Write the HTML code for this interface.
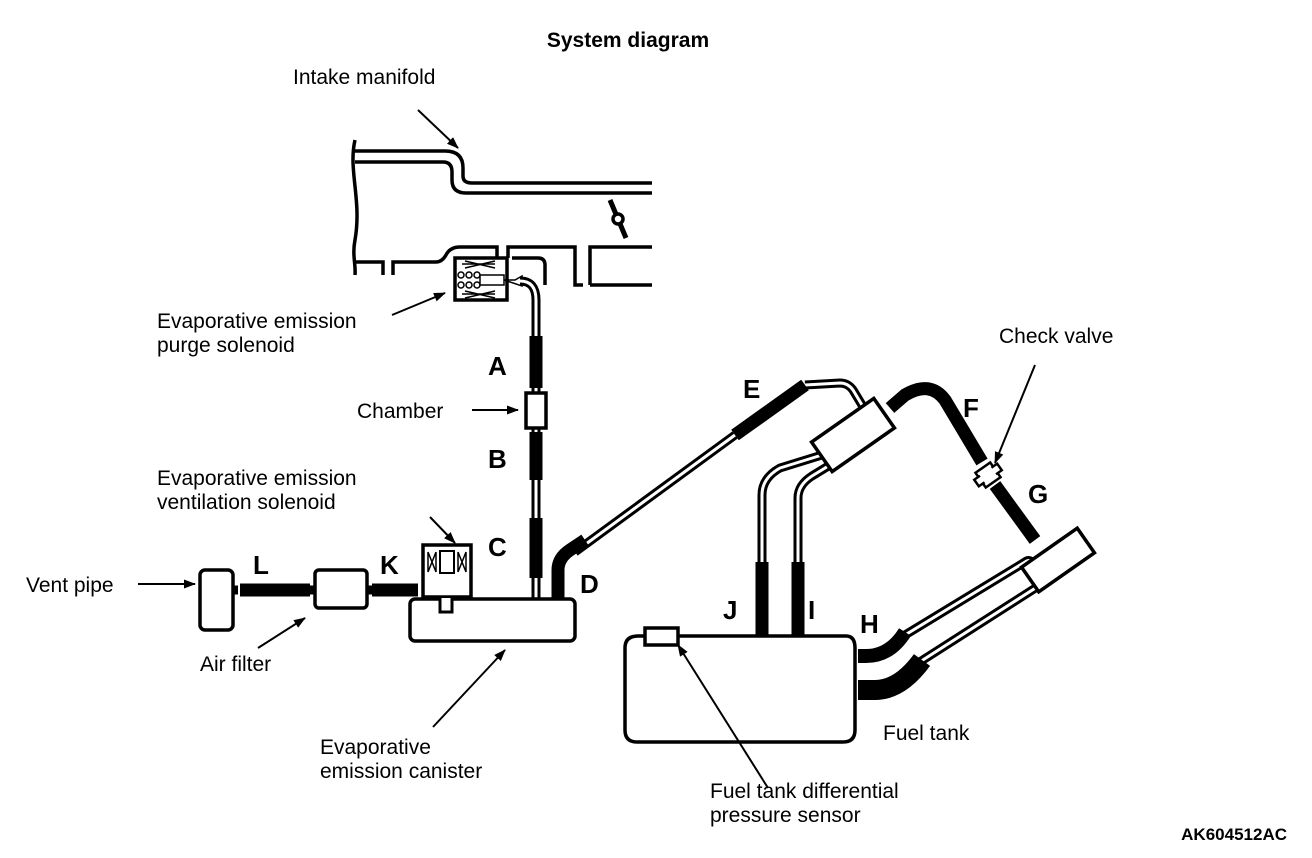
<!DOCTYPE html>
<html><head><meta charset="utf-8"><style>
html,body{margin:0;padding:0;background:#fff}
svg{display:block}
text{font-family:"Liberation Sans",Arial,sans-serif;font-size:21px;fill:#000}
.b{font-weight:bold;font-size:26px}
</style></head><body>
<svg width="1312" height="858" viewBox="0 0 1312 858" xmlns="http://www.w3.org/2000/svg">
<defs>
<marker id="ar" markerWidth="12" markerHeight="9" refX="11" refY="4.5" orient="auto" markerUnits="userSpaceOnUse" viewBox="0 0 12 9">
<path d="M0,0 L12,4.5 L0,9 z" fill="#000"/></marker>
</defs>
<g fill="none" stroke="#000" stroke-width="3.5">
<path d="M355,140 C348,170 362,200 355,240 C352,255 356,265 355,275"/>
<path d="M355,151 H445 Q463,151 463,168 V176 Q463,183 472,183 H652"/>
<path d="M355,162 H443 Q452,162 452,172 V180 Q452,193 466,193 H652"/>
<path d="M355,262 H383 V275"/>
<path d="M393,275 V262 H436 Q442,262 446,255 Q450,247 460,247 H497 V258"/>
<path d="M508,258 V247 H575 V285 H583"/>
<path d="M512,258 H538 Q545,258 545,265 V285"/>
<path d="M590,285 V247 H652"/>
<path d="M590,285 H652"/>
<path d="M610,200 L626,238" stroke-width="5"/>
<circle cx="618" cy="219" r="5" fill="#fff"/>
</g>
<rect x="455" y="258" width="52" height="42" fill="#fff" stroke="#000" stroke-width="3.5"/>
<path d="M462,264 L495,264 M462,294 L495,294 M465,261 L495,268 M465,268 L495,261 M465,291 L495,298 M465,298 L495,291" stroke="#000" stroke-width="1.5"/>
<g fill="none" stroke="#000" stroke-width="1.5"><circle cx="461" cy="275" r="3"/><circle cx="469" cy="275" r="3"/><circle cx="477" cy="275" r="3"/><circle cx="461" cy="285" r="3"/><circle cx="469" cy="285" r="3"/><circle cx="477" cy="285" r="3"/></g>
<rect x="480" y="275" width="24" height="10" fill="#fff" stroke="#000" stroke-width="1.5"/>
<path d="M504,280 H515 L522,276 V286 Z" fill="#fff" stroke="#000" stroke-width="1.5"/>
<g fill="none" stroke-linejoin="round" stroke-linecap="butt">
<g stroke="#000" stroke-width="9">
<path d="M520,281 Q536,281 536,300 V598"/>
<path d="M575,552 L735,435 M805,385 L840,383 Q848,383 853,390 L865,410"/>
<path d="M762,565 V495 Q762,478 780,468 L822,455"/>
<path d="M798,565 V498 Q798,485 812,476 L830,465"/>
<path d="M905,635 L1025,562 Q1030,558 1035,565"/>
<path d="M915,665 L1048,580"/>
<path d="M300,590 H318 M365,590 H375 M232,590 H238"/>
</g>
<g stroke="#fff" stroke-width="3">
<path d="M520,281 Q536,281 536,300 V598"/>
<path d="M575,552 L735,435 M805,385 L840,383 Q848,383 853,390 L865,410"/>
<path d="M762,565 V495 Q762,478 780,468 L822,455"/>
<path d="M798,565 V498 Q798,485 812,476 L830,465"/>
<path d="M905,635 L1025,562 Q1030,558 1035,565"/>
<path d="M915,665 L1048,580"/>
</g>
<g stroke="#000" stroke-width="13">
<path d="M536,336 V388 M536,432 V480 M536,518 V578"/>
<path d="M558,600 V570 Q558,558 570,550 L585,540"/>
<path d="M735,435 L805,385"/>
<path d="M762,562 V635 M798,562 V635"/>
<path d="M890,408 L905,395 Q930,380 945,400 L982,462"/>
<path d="M995,485 L1035,540"/>
<path d="M240,590 H310 M372,590 H418"/>
</g>
<path d="M858,690 H875 Q900,690 922,660" stroke="#000" stroke-width="20"/>
</g>
<path d="M526,393 H546 V428 H526 Z" fill="#fff" stroke="#000" stroke-width="3.5"/>
<rect x="410" y="599" width="165" height="42" rx="5" fill="#fff" stroke="#000" stroke-width="3.5"/>
<rect x="423" y="545" width="48" height="52" fill="#fff" stroke="#000" stroke-width="3.5"/>
<path d="M428,552 V572 M436,552 V572 M428,552 L436,572 M436,552 L428,572 M458,552 V572 M466,552 V572 M458,552 L466,572 M466,552 L458,572" stroke="#000" stroke-width="1.5"/>
<rect x="440" y="551" width="14" height="22" fill="#fff" stroke="#000" stroke-width="2"/>
<path d="M440,598 V612 H452 V598" fill="#fff" stroke="#000" stroke-width="3"/>
<rect x="315" y="570" width="52" height="38" rx="4" fill="#fff" stroke="#000" stroke-width="3.5"/>
<rect x="200" y="570" width="33" height="60" rx="5" fill="#fff" stroke="#000" stroke-width="3.5"/>
<g transform="translate(853,435) rotate(-35)">
<rect x="-38" y="-18" width="76" height="36" fill="#fff" stroke="#000" stroke-width="3.5"/>
</g>
<g transform="translate(988,475) rotate(-35)">
<rect x="-9" y="-9" width="18" height="18" fill="#fff" stroke="#000" stroke-width="2.5"/>
<rect x="-14" y="-4" width="28" height="8" fill="#fff" stroke="#000" stroke-width="2.5"/>
<rect x="-7" y="-7" width="14" height="14" fill="#fff"/>
</g>
<g transform="translate(1058,560) rotate(-35)">
<rect x="-34" y="-15" width="68" height="30" fill="#fff" stroke="#000" stroke-width="3.5"/>
</g>
<path d="M625,648 Q625,636 638,636 H846 Q855,636 855,648 V730 Q855,742 843,742 H637 Q625,742 625,730 Z" fill="#fff" stroke="#000" stroke-width="3.5"/>
<rect x="645" y="628" width="33" height="17" fill="#fff" stroke="#000" stroke-width="3.5"/>
<path d="M762,636 V620 M798,636 V620" stroke="#000" stroke-width="11"/>
<path d="M858,656 H866 Q890,656 905,632" stroke="#000" stroke-width="14" fill="none"/>
<g stroke="#000" stroke-width="2" fill="none" marker-end="url(#ar)">
<line x1="418" y1="110" x2="458" y2="148"/>
<line x1="392" y1="315" x2="445" y2="293"/>
<line x1="472" y1="410" x2="518" y2="410"/>
<line x1="430" y1="517" x2="455" y2="543"/>
<line x1="138" y1="584" x2="195" y2="584"/>
<line x1="258" y1="648" x2="305" y2="618"/>
<line x1="433" y1="727" x2="505" y2="650"/>
<line x1="1035" y1="365" x2="995" y2="463"/>
<line x1="768" y1="788" x2="678" y2="645"/>
</g>
<text x="628" y="47" text-anchor="middle" style="font-weight:bold;font-size:21px">System diagram</text>
<text x="293" y="84">Intake manifold</text>
<text x="157" y="328">Evaporative emission</text>
<text x="157" y="352">purge solenoid</text>
<text x="357" y="418">Chamber</text>
<text x="157" y="485">Evaporative emission</text>
<text x="157" y="509">ventilation solenoid</text>
<text x="26" y="592">Vent pipe</text>
<text x="200" y="671">Air filter</text>
<text x="320" y="754">Evaporative</text>
<text x="320" y="778">emission canister</text>
<text x="999" y="343">Check valve</text>
<text x="883" y="740">Fuel tank</text>
<text x="710" y="798">Fuel tank differential</text>
<text x="710" y="822">pressure sensor</text>
<text x="1287" y="840" text-anchor="end" style="font-weight:bold;font-size:17px">AK604512AC</text>
<text class="b" x="488" y="375">A</text>
<text class="b" x="488" y="468">B</text>
<text class="b" x="488" y="556">C</text>
<text class="b" x="580" y="593">D</text>
<text class="b" x="743" y="398">E</text>
<text class="b" x="963" y="417">F</text>
<text class="b" x="1028" y="503">G</text>
<text class="b" x="860" y="633">H</text>
<text class="b" x="808" y="619">I</text>
<text class="b" x="723" y="619">J</text>
<text class="b" x="380" y="574">K</text>
<text class="b" x="253" y="574">L</text>
</svg>
</body></html>
